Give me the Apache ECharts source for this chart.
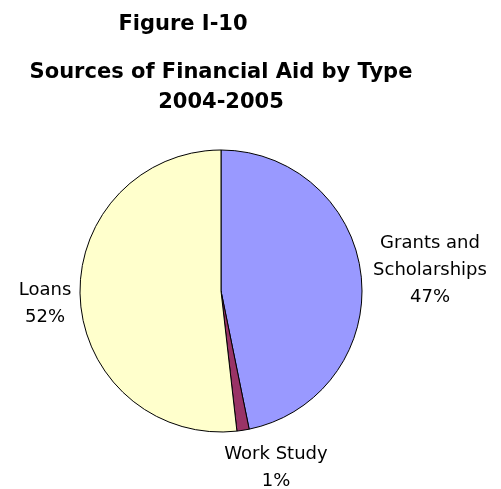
<!DOCTYPE html>
<html><head><meta charset="utf-8">
<script src="https://cdn.jsdelivr.net/npm/echarts@6/dist/echarts.min.js"></script>
<style>html,body{margin:0;padding:0;background:#fff}#c{width:501px;height:489px}</style>
</head><body><div id="c"></div>
<script>
const categories = ["Grants and\nScholarships", "Work Study", "Loans"];
const values = [46.8, 1.4, 51.8];
const colors = ["#9999FF", "#993366", "#FFFFCC"];
const labelPos = [[430, 270], [276, 468], [45, 304]];

const chart = echarts.init(document.getElementById('c'), null, {renderer: 'canvas'});
chart.setOption({
  backgroundColor: '#fff',
  animation: false,
  title: [
    {text: 'Figure I-10', left: 178, top: 9, textAlign: 'center',
     textStyle: {fontFamily: 'DejaVu Sans', fontSize: 21, fontWeight: 'bold', color: '#000'}},
    {text: 'Sources of Financial Aid by Type\n2004-2005', left: 216, top: 53, textAlign: 'center',
     textStyle: {fontFamily: 'DejaVu Sans', fontSize: 21, fontWeight: 'bold', color: '#000', lineHeight: 30}}
  ],
  series: [{
    type: 'pie',
    center: [221, 291],
    radius: 141,
    startAngle: 90,
    clockwise: true,
    percentPrecision: 0,
    data: categories.map((c, i) => ({name: c, value: values[i], itemStyle: {color: colors[i]}})),
    itemStyle: {borderColor: '#000', borderWidth: 1},
    label: {
      show: true, position: 'outside', formatter: '{b}\n{d}%', overflow: 'none', width: 200,
      fontFamily: 'DejaVu Sans', fontSize: 18, color: '#000', lineHeight: 27, align: 'center'
    },
    labelLine: {show: false},
    labelLayout: function (p) {
      const pos = labelPos[p.dataIndex];
      return {x: pos[0], y: pos[1], align: 'center', verticalAlign: 'middle'};
    },
    emphasis: {disabled: true}
  }]
});
</script></body></html>
